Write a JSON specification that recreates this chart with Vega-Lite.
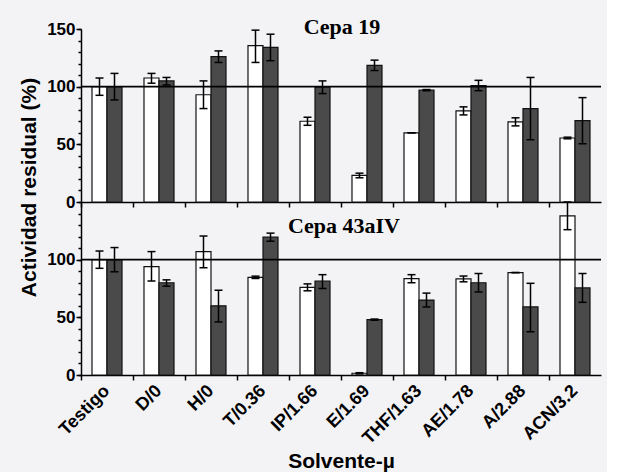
{
  "$schema": "https://vega.github.io/schema/vega-lite/v6.json",
  "background": "#f3f3f6",
  "padding": {"left": 18, "top": 16, "right": 5, "bottom": 2},
  "config": {
    "view": {"stroke": null},
    "axis": {
      "domainColor": "#000", "domainWidth": 1.5, "tickColor": "#000", "tickWidth": 1.5,
      "labelFont": "Liberation Sans", "labelFontWeight": "bold", "labelColor": "#000", "labelFontSize": 17,
      "titleFont": "Liberation Sans", "titleFontWeight": "bold", "titleFontSize": 21, "titleColor": "#000",
      "grid": false
    }
  },
  "datasets": {
    "c19": [
      {"cat": "Testigo", "grp": "a", "v": 100, "lo": 92.5, "hi": 107.5},
      {"cat": "Testigo", "grp": "b", "v": 100, "lo": 88.5, "hi": 111.5},
      {"cat": "D/0", "grp": "a", "v": 107.5, "lo": 103, "hi": 111.5},
      {"cat": "D/0", "grp": "b", "v": 105, "lo": 101.5, "hi": 108},
      {"cat": "H/0", "grp": "a", "v": 93, "lo": 81, "hi": 105},
      {"cat": "H/0", "grp": "b", "v": 126, "lo": 121, "hi": 131},
      {"cat": "T/0.36", "grp": "a", "v": 135.5, "lo": 121, "hi": 149},
      {"cat": "T/0.36", "grp": "b", "v": 134, "lo": 122.5, "hi": 145.5},
      {"cat": "IP/1.66", "grp": "a", "v": 70, "lo": 66.5, "hi": 73.5},
      {"cat": "IP/1.66", "grp": "b", "v": 99.5, "lo": 94, "hi": 105},
      {"cat": "E/1.69", "grp": "a", "v": 23, "lo": 21, "hi": 25},
      {"cat": "E/1.69", "grp": "b", "v": 118.5, "lo": 114, "hi": 123},
      {"cat": "THF/1.63", "grp": "a", "v": 60, "lo": 60, "hi": 60},
      {"cat": "THF/1.63", "grp": "b", "v": 97, "lo": 96.5, "hi": 97.5},
      {"cat": "AE/1.78", "grp": "a", "v": 79, "lo": 75.5, "hi": 82.5},
      {"cat": "AE/1.78", "grp": "b", "v": 101, "lo": 96.5, "hi": 105.5},
      {"cat": "A/2.88", "grp": "a", "v": 69.5, "lo": 66, "hi": 73},
      {"cat": "A/2.88", "grp": "b", "v": 81, "lo": 54, "hi": 108},
      {"cat": "ACN/3.2", "grp": "a", "v": 55.5, "lo": 54.8, "hi": 56.2},
      {"cat": "ACN/3.2", "grp": "b", "v": 70.5, "lo": 50.5, "hi": 90.5}
    ],
    "c43": [
      {"cat": "Testigo", "grp": "a", "v": 100, "lo": 92.5, "hi": 107.5},
      {"cat": "Testigo", "grp": "b", "v": 100, "lo": 89.5, "hi": 110.5},
      {"cat": "D/0", "grp": "a", "v": 94, "lo": 81.5, "hi": 107},
      {"cat": "D/0", "grp": "b", "v": 80, "lo": 77, "hi": 82.5},
      {"cat": "H/0", "grp": "a", "v": 107, "lo": 93, "hi": 120.5},
      {"cat": "H/0", "grp": "b", "v": 60, "lo": 46, "hi": 73.5},
      {"cat": "T/0.36", "grp": "a", "v": 84.7, "lo": 83.7, "hi": 85.7},
      {"cat": "T/0.36", "grp": "b", "v": 119.5, "lo": 116, "hi": 123},
      {"cat": "IP/1.66", "grp": "a", "v": 76, "lo": 73, "hi": 79},
      {"cat": "IP/1.66", "grp": "b", "v": 81.5, "lo": 75, "hi": 87},
      {"cat": "E/1.69", "grp": "a", "v": 1.5, "lo": 1, "hi": 2},
      {"cat": "E/1.69", "grp": "b", "v": 48, "lo": 47.5, "hi": 48.5},
      {"cat": "THF/1.63", "grp": "a", "v": 83.5, "lo": 80, "hi": 87},
      {"cat": "THF/1.63", "grp": "b", "v": 65, "lo": 59, "hi": 71},
      {"cat": "AE/1.78", "grp": "a", "v": 83.3, "lo": 80.8, "hi": 85.8},
      {"cat": "AE/1.78", "grp": "b", "v": 80, "lo": 72, "hi": 88},
      {"cat": "A/2.88", "grp": "a", "v": 88.8, "lo": 88.8, "hi": 88.8},
      {"cat": "A/2.88", "grp": "b", "v": 59, "lo": 37.5, "hi": 79.5},
      {"cat": "ACN/3.2", "grp": "a", "v": 138, "lo": 126, "hi": 150},
      {"cat": "ACN/3.2", "grp": "b", "v": 75.5, "lo": 63, "hi": 88}
    ]
  },
  "bounds": "flush",
  "spacing": 0,
  "vconcat": [
    {
      "width": 520,
      "height": 173,
      "resolve": {"axis": {"x": "independent", "y": "independent"}},
      "layer": [
        {
          "data": {"name": "c19"},
          "mark": {"type": "bar", "stroke": "#111", "strokeWidth": 1.2},
          "encoding": {
            "x": {"field": "cat", "type": "nominal",
              "scale": {"domain": ["Testigo", "D/0", "H/0", "T/0.36", "IP/1.66", "E/1.69", "THF/1.63", "AE/1.78", "A/2.88", "ACN/3.2"], "paddingInner": 0, "paddingOuter": 0},
              "axis": {"orient": "bottom", "title": null, "labels": false, "bandPosition": 0, "tickSize": 5}},
            "xOffset": {"field": "grp", "type": "nominal", "scale": {"domain": ["a", "b"], "paddingInner": 0, "paddingOuter": 0.733}},
            "y": {"field": "v", "type": "quantitative", "scale": {"domain": [0, 150], "nice": false},
              "axis": {"orient": "left", "title": "Actividad residual (%)", "titleY": 158, "titlePadding": 7,
                "values": [0, 50, 100, 150], "tickSize": 5, "labelPadding": 1}},
            "fill": {"field": "grp", "type": "nominal", "scale": {"domain": ["a", "b"], "range": ["#ffffff", "#4a4a4a"]}, "legend": null}
          }
        },
        {
          "data": {"name": "c19"},
          "mark": {"type": "rule", "strokeWidth": 1.5, "color": "#000"},
          "encoding": {
            "x": {"field": "cat", "type": "nominal", "axis": null},
            "xOffset": {"field": "grp", "type": "nominal"},
            "y": {"field": "lo", "type": "quantitative",
              "axis": {"orient": "left", "title": null, "labels": false, "domain": false, "tickSize": 3,
                "values": [0, 10, 20, 30, 40, 50, 60, 70, 80, 90, 100, 110, 120, 130, 140, 150]}},
            "y2": {"field": "hi"}
          }
        },
        {
          "data": {"name": "c19"},
          "mark": {"type": "tick", "size": 8, "thickness": 1.5, "color": "#000", "opacity": 1},
          "encoding": {
            "x": {"field": "cat", "type": "nominal", "axis": null},
            "xOffset": {"field": "grp", "type": "nominal"},
            "y": {"field": "lo", "type": "quantitative", "axis": null}
          }
        },
        {
          "data": {"name": "c19"},
          "mark": {"type": "tick", "size": 8, "thickness": 1.5, "color": "#000", "opacity": 1},
          "encoding": {
            "x": {"field": "cat", "type": "nominal", "axis": null},
            "xOffset": {"field": "grp", "type": "nominal"},
            "y": {"field": "hi", "type": "quantitative", "axis": null}
          }
        },
        {
          "data": {"values": [{}]},
          "mark": {"type": "rule", "strokeWidth": 1.6, "color": "#000"},
          "encoding": {"y": {"datum": 100, "type": "quantitative", "axis": null}}
        },
        {
          "data": {"values": [{"t": "Cepa 19"}]},
          "mark": {"type": "text", "font": "Liberation Serif", "fontWeight": "bold", "fontSize": 22, "baseline": "alphabetic", "align": "center", "color": "#000", "dx": 1},
          "encoding": {
            "x": {"datum": "E/1.69", "type": "nominal", "bandPosition": 0, "axis": null},
            "y": {"datum": 145.5, "type": "quantitative", "axis": null},
            "text": {"field": "t"}
          }
        }
      ]
    },
    {
      "width": 520,
      "height": 173,
      "resolve": {"axis": {"x": "independent", "y": "independent"}},
      "layer": [
        {
          "data": {"name": "c43"},
          "mark": {"type": "bar", "stroke": "#111", "strokeWidth": 1.2},
          "encoding": {
            "x": {"field": "cat", "type": "nominal",
              "scale": {"domain": ["Testigo", "D/0", "H/0", "T/0.36", "IP/1.66", "E/1.69", "THF/1.63", "AE/1.78", "A/2.88", "ACN/3.2"], "paddingInner": 0, "paddingOuter": 0},
              "axis": {"orient": "bottom", "title": "Solvente-µ", "titlePadding": 3, "ticks": false, "labelFontSize": 18,
                "labelAngle": -45, "labelAlign": "right", "labelBaseline": "middle", "labelPadding": 13}},
            "xOffset": {"field": "grp", "type": "nominal", "scale": {"domain": ["a", "b"], "paddingInner": 0, "paddingOuter": 0.733}},
            "y": {"field": "v", "type": "quantitative", "scale": {"domain": [0, 150], "nice": false},
              "axis": {"orient": "left", "title": null, "values": [0, 50, 100], "tickSize": 5, "labelPadding": 1}},
            "fill": {"field": "grp", "type": "nominal", "scale": {"domain": ["a", "b"], "range": ["#ffffff", "#4a4a4a"]}, "legend": null}
          }
        },
        {
          "data": {"name": "c43"},
          "mark": {"type": "rule", "strokeWidth": 1.5, "color": "#000"},
          "encoding": {
            "x": {"field": "cat", "type": "nominal",
              "axis": {"orient": "bottom", "title": null, "labels": false, "domain": false, "bandPosition": 0, "tickSize": 5}},
            "xOffset": {"field": "grp", "type": "nominal"},
            "y": {"field": "lo", "type": "quantitative",
              "axis": {"orient": "left", "title": null, "labels": false, "domain": false, "tickSize": 3,
                "values": [0, 10, 20, 30, 40, 50, 60, 70, 80, 90, 100, 110, 120, 130, 140]}},
            "y2": {"field": "hi"}
          }
        },
        {
          "data": {"name": "c43"},
          "mark": {"type": "tick", "size": 8, "thickness": 1.5, "color": "#000", "opacity": 1},
          "encoding": {
            "x": {"field": "cat", "type": "nominal", "axis": null},
            "xOffset": {"field": "grp", "type": "nominal"},
            "y": {"field": "lo", "type": "quantitative", "axis": null}
          }
        },
        {
          "data": {"name": "c43"},
          "mark": {"type": "tick", "size": 8, "thickness": 1.5, "color": "#000", "opacity": 1},
          "encoding": {
            "x": {"field": "cat", "type": "nominal", "axis": null},
            "xOffset": {"field": "grp", "type": "nominal"},
            "y": {"field": "hi", "type": "quantitative", "axis": null}
          }
        },
        {
          "data": {"values": [{}]},
          "mark": {"type": "rule", "strokeWidth": 1.6, "color": "#000"},
          "encoding": {"y": {"datum": 100, "type": "quantitative", "axis": null}}
        },
        {
          "data": {"values": [{"t": "Cepa 43aIV"}]},
          "mark": {"type": "text", "font": "Liberation Serif", "fontWeight": "bold", "fontSize": 22, "baseline": "alphabetic", "align": "center", "color": "#000", "dx": 3},
          "encoding": {
            "x": {"datum": "E/1.69", "type": "nominal", "bandPosition": 0, "axis": null},
            "y": {"datum": 123, "type": "quantitative", "axis": null},
            "text": {"field": "t"}
          }
        }
      ]
    }
  ]
}
